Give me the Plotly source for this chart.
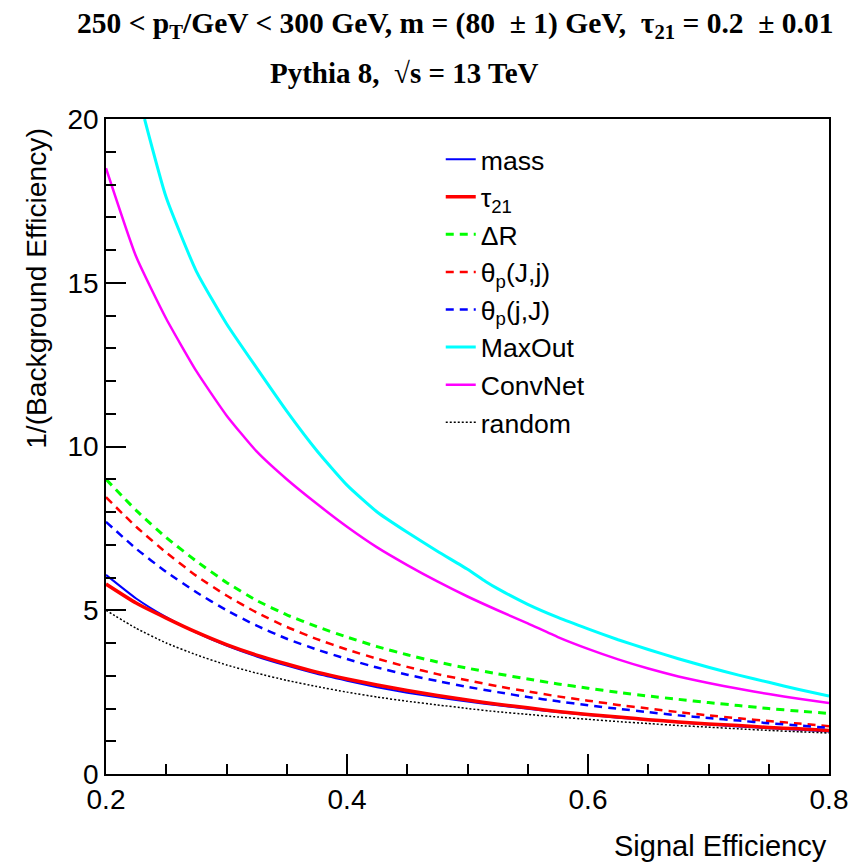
import plotly.graph_objects as go

# ---- data ----
eff = [0.200, 0.225, 0.250, 0.275, 0.300, 0.325, 0.350, 0.375, 0.400, 0.425,
       0.450, 0.475, 0.500, 0.525, 0.550, 0.575, 0.600, 0.625, 0.650, 0.675,
       0.700, 0.725, 0.750, 0.775, 0.800]

mass = [6.08, 5.36, 4.79, 4.32, 3.92, 3.59, 3.31, 3.06, 2.85, 2.65,
        2.48, 2.34, 2.21, 2.10, 1.99, 1.89, 1.80, 1.72, 1.65, 1.58,
        1.51, 1.45, 1.40, 1.35, 1.30]
tau21 = [5.80, 5.22, 4.76, 4.33, 3.95, 3.63, 3.36, 3.11, 2.90, 2.72,
         2.55, 2.40, 2.26, 2.13, 2.02, 1.91, 1.82, 1.74, 1.66, 1.59,
         1.53, 1.48, 1.42, 1.38, 1.33]
deltaR = [9.00, 8.05, 7.22, 6.50, 5.85, 5.30, 4.86, 4.50, 4.18, 3.89,
          3.64, 3.42, 3.23, 3.06, 2.90, 2.75, 2.62, 2.49, 2.38, 2.28,
          2.18, 2.09, 2.00, 1.92, 1.85]
theta_Jj = [8.45, 7.55, 6.76, 6.05, 5.45, 4.93, 4.49, 4.12, 3.80, 3.52,
            3.27, 3.05, 2.86, 2.68, 2.52, 2.37, 2.24, 2.11, 2.00, 1.89,
            1.79, 1.70, 1.62, 1.54, 1.46]
theta_jJ = [7.70, 6.88, 6.17, 5.55, 5.00, 4.53, 4.13, 3.80, 3.51, 3.25,
            3.03, 2.84, 2.66, 2.50, 2.35, 2.22, 2.10, 1.99, 1.89, 1.79,
            1.71, 1.63, 1.55, 1.48, 1.41]
convnet = [18.5, 15.8, 13.9, 12.3, 10.95, 9.85, 9.00, 8.25, 7.55, 6.92,
           6.38, 5.88, 5.42, 5.00, 4.60, 4.18, 3.82, 3.50, 3.22, 2.98,
           2.78, 2.60, 2.44, 2.30, 2.17]
random_ = [5.00, 4.45, 4.00, 3.64, 3.33, 3.08, 2.86, 2.67, 2.50, 2.35,
           2.22, 2.11, 2.00, 1.90, 1.82, 1.74, 1.67, 1.60, 1.54, 1.48,
           1.43, 1.38, 1.33, 1.29, 1.25]

eff_maxout = [0.232, 0.250, 0.275, 0.300, 0.325, 0.350, 0.375, 0.400, 0.425,
              0.450, 0.475, 0.500, 0.515, 0.525, 0.550, 0.575, 0.600, 0.625,
              0.650, 0.675, 0.700, 0.725, 0.750, 0.775, 0.800]
maxout = [20.0, 17.6, 15.35, 13.75, 12.4, 11.08, 9.87, 8.82, 8.0,
          7.38, 6.80, 6.25, 5.88, 5.66, 5.18, 4.78, 4.43, 4.10,
          3.80, 3.52, 3.26, 3.02, 2.80, 2.58, 2.38]

x_ticks = [0.2, 0.4, 0.6, 0.8]
y_ticks = [0, 5, 10, 15, 20]

series = [
    ("mass", eff, mass, "#0000ff", 2, "solid"),
    ("τ<sub>21</sub>", eff, tau21, "#ff0000", 3.5, "solid"),
    ("ΔR", eff, deltaR, "#00ff00", 3, "8px,6px"),
    ("θ<sub>p</sub>(J,j)", eff, theta_Jj, "#ff0000", 2.5, "8px,6px"),
    ("θ<sub>p</sub>(j,J)", eff, theta_jJ, "#0000ff", 2.5, "8px,6px"),
    ("MaxOut", eff_maxout, maxout, "#00ffff", 3, "solid"),
    ("ConvNet", eff, convnet, "#ff00ff", 2.5, "solid"),
    ("random", eff, random_, "#000000", 1.5, "2px,2px"),
]

fig = go.Figure()
for i, (name, xs, ys, col, w, dash) in enumerate(series):
    fig.add_trace(go.Scatter(
        x=xs, y=ys, mode="lines", name=name, legendgroup=str(i),
        line=dict(color=col, width=w, dash=dash, shape="spline", smoothing=0.5),
    ))

sans = "Liberation Sans, Arial, sans-serif"
serif = "Liberation Serif, Times New Roman, serif"

fig.update_layout(
    width=848, height=865,
    margin=dict(l=106, r=19, t=119, b=91),
    paper_bgcolor="white", plot_bgcolor="white",
    showlegend=True,
    legend=dict(
        x=0.463, y=0.975, xanchor="left", yanchor="top",
        font=dict(family=sans, size=26.6, color="black"),
        bgcolor="rgba(0,0,0,0)", borderwidth=0,
        tracegroupgap=0, itemwidth=30,
    ),
    xaxis=dict(
        range=[0.2, 0.8], tickmode="array", tickvals=x_ticks,
        ticktext=[f"{v:.1f}" for v in x_ticks], automargin=False,
        ticklabeloverflow="allow",
        ticks="inside", ticklen=20, tickwidth=1.5, tickcolor="black",
        minor=dict(dtick=0.05, ticks="inside", ticklen=10, tickwidth=1.5, tickcolor="black"),
        showline=True, mirror=True, linecolor="black", linewidth=1.5,
        showgrid=False, zeroline=False,
        tickfont=dict(family=sans, size=28, color="black"),
    ),
    yaxis=dict(
        range=[0, 20], tickmode="array", tickvals=y_ticks, automargin=False,
        ticklabeloverflow="allow",
        ticks="inside", ticklen=20, tickwidth=1.5, tickcolor="black",
        minor=dict(dtick=1, ticks="inside", ticklen=10, tickwidth=1.5, tickcolor="black"),
        showline=True, mirror=True, linecolor="black", linewidth=1.5,
        showgrid=False, zeroline=False,
        tickfont=dict(family=sans, size=28, color="black"),
    ),
    annotations=[
        dict(text="<b>250 < p<sub>T</sub>/GeV < 300 GeV, m = (80  ± 1) GeV,  τ<sub>21</sub> = 0.2  ± 0.01</b>",
             xref="paper", yref="paper", x=(455 - 106) / 723, y=(774.5 - 25) / 655.5,
             xanchor="center", yanchor="middle", showarrow=False,
             font=dict(family=serif, size=29.5, color="black")),
        dict(text="<b>Pythia 8,  √s = 13 TeV</b>",
             xref="paper", yref="paper", x=(404 - 106) / 723, y=(774.5 - 73) / 655.5,
             xanchor="center", yanchor="middle", showarrow=False,
             font=dict(family=serif, size=29, color="black")),
        dict(text="Signal Efficiency", xref="paper", yref="paper",
             x=1.0, y=(774.5 - 847) / 655.5, xanchor="right", yanchor="middle",
             showarrow=False, font=dict(family=sans, size=29, color="black")),
        dict(text="1/(Background Efficiency)", xref="paper", yref="paper",
             x=(36 - 106) / 723, y=(774.5 - 289) / 655.5, xanchor="center", yanchor="middle",
             textangle=-90, showarrow=False,
             font=dict(family=sans, size=28.2, color="black")),
    ],
)

fig.write_html("out.html")
